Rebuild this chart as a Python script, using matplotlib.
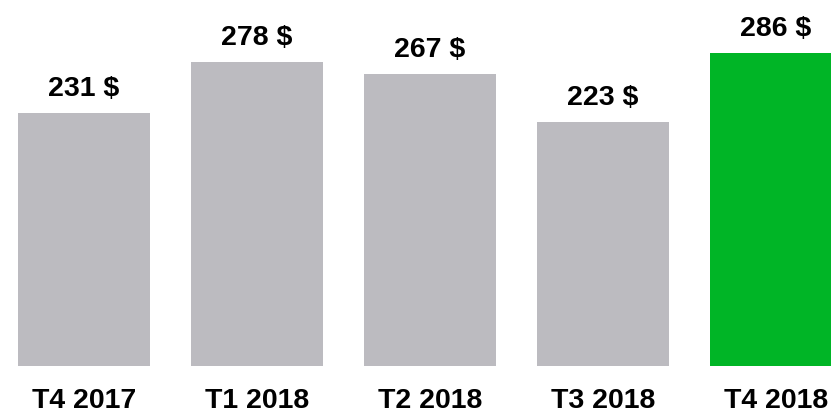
import matplotlib
matplotlib.use('Agg')
import matplotlib.pyplot as plt
import numpy as np

# quarterly values
quarters = ['T4 2017', 'T1 2018', 'T2 2018', 'T3 2018', 'T4 2018']
values = [231, 278, 267, 223, 286]
labels = ['231 $', '278 $', '267 $', '223 $', '286 $']

GREY = '#bcbbc0'
GREEN = '#00b526'

plt.rcParams['font.family'] = ['Liberation Sans', 'DejaVu Sans']

fig = plt.figure(figsize=(8.31, 4.14), dpi=100)
ax = fig.add_axes([0, 0, 1, 1])

x = np.arange(len(quarters))
colors = [GREY] * (len(quarters) - 1) + [GREEN]
ax.bar(x, values, width=0.765, color=colors)

# pixel-ish layout: bar centres 173 px apart, first at 84 px, baseline 47 px up
ax.set_xlim(-84 / 173, -84 / 173 + 831 / 173)
ax.set_ylim(-47 / 1.095, 367 / 1.095)

for xi, v, lab in zip(x, values, labels):
    ax.annotate(lab, (xi, v), xytext=(0, 13), textcoords='offset points',
                ha='center', va='baseline', fontsize=20.5, fontweight='bold')

# quarter names under the bars (kept just inside the bottom edge)
for xi, q in zip(x, quarters):
    ax.annotate(q, (xi, 0), xytext=(0, -29.5), textcoords='offset points',
                ha='center', va='baseline', fontsize=20.5, fontweight='bold')

ax.axis('off')
fig.savefig('out.png', dpi=100)
